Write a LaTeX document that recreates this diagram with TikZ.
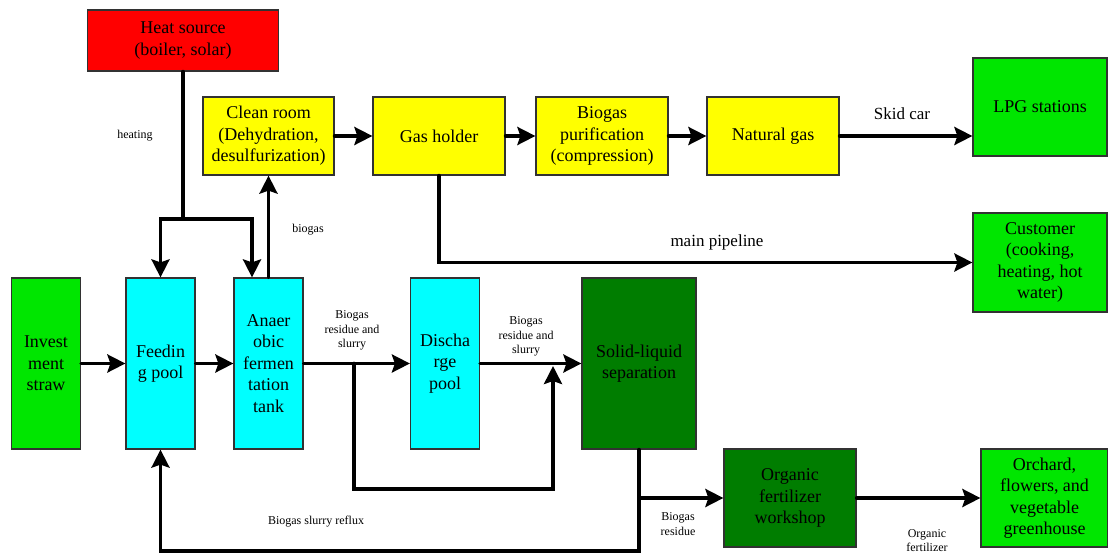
\documentclass[tikz,border=0pt]{standalone}
\usepackage{fontspec}
\setmainfont{Liberation Serif}
\usetikzlibrary{arrows.meta}
\definecolor{heatred}{RGB}{255,0,0}
\definecolor{gasyellow}{RGB}{255,255,0}
\definecolor{poolcyan}{RGB}{0,255,255}
\definecolor{lightgreen}{RGB}{0,230,0}
\definecolor{darkgreen}{RGB}{0,125,0}
\definecolor{edgegray}{RGB}{50,50,50}
\tikzset{
  box/.style={draw=edgegray, line width=1.2pt, rectangle, align=center, inner sep=0pt,
    font=\fontsize{18}{21.5}\selectfont},
  flow/.style={line width=3.6pt, line cap=round, line join=miter,
    -{Stealth[length=18pt,width=18pt,inset=3pt]}},
  pipe/.style={line width=3.6pt, line cap=round},
  small/.style={font=\fontsize{12}{14.5}\selectfont, align=center, inner sep=0pt},
  mid/.style={font=\fontsize{17}{20}\selectfont, inner sep=0pt},
}
\begin{document}
\begin{tikzpicture}[x=1pt,y=-1pt]
\useasboundingbox (0,0) rectangle (1108,554);

% process boxes
\node[box, fill=heatred, minimum width=191pt, minimum height=61pt] (heat) at (183,40.5) {Heat source\\(boiler, solar)};
\node[box, fill=gasyellow, minimum width=131pt, minimum height=78pt] (clean) at (268.5,136) {Clean room\\(Dehydration,\\desulfurization)};
\node[box, fill=gasyellow, minimum width=132pt, minimum height=78pt] (gas) at (439,136) {Gas holder};
\node[box, fill=gasyellow, minimum width=132pt, minimum height=78pt] (puri) at (602,136) {Biogas\\purification\\(compression)};
\node[box, fill=gasyellow, minimum width=132pt, minimum height=78pt] (natgas) at (773,136) {Natural gas};
\node[box, fill=lightgreen, minimum width=134pt, minimum height=98pt] (lpg) at (1040,107) {LPG stations};
\node[box, fill=lightgreen, minimum width=134pt, minimum height=99pt] (cust) at (1040,262.5) {Customer\\(cooking,\\heating, hot\\water)};
\node[box, fill=lightgreen, minimum width=69pt, minimum height=171pt] (invest) at (46,363.5) {Invest\\ment\\straw};
\node[box, fill=poolcyan, minimum width=69pt, minimum height=171pt] (feed) at (160.5,363.5) {Feedin\\g pool};
\node[box, fill=poolcyan, minimum width=69pt, minimum height=171pt] (anaer) at (268.5,363.5) {Anaer\\obic\\fermen\\tation\\tank};
\node[box, fill=poolcyan, minimum width=69pt, minimum height=171pt] (disch) at (445,363.5) {Discha\\rge\\pool};
\node[box, fill=darkgreen, minimum width=114pt, minimum height=171pt] (solid) at (639,363.5) {Solid-liquid\\separation};
\node[box, fill=darkgreen, minimum width=132pt, minimum height=98pt] (organic) at (790,498) {Organic\\fertilizer\\workshop};
\node[box, fill=lightgreen, minimum width=127pt, minimum height=98pt] (orchard) at (1044.5,498) {Orchard,\\flowers, and\\vegetable\\greenhouse};

% junction points
\coordinate (hj) at (183,219);
\coordinate (anaerIn) at ([xshift=-16.5pt]anaer.north);
\coordinate (byA) at (354,363.5);
\coordinate (byLow) at (354,489);
\coordinate (byB) at (553,366);
\coordinate (sj) at (639,498);
\coordinate (ret) at (639,551);

% heating
\draw[pipe] (heat.south) -- (hj);
\draw[flow] (hj) -| (feed.north);
\draw[flow] (hj) -| (anaerIn);

% gas line
\draw[flow] (anaer.north) -- (clean.south);
\draw[flow] (clean.east) -- (gas.west);
\draw[flow] (gas.east) -- (puri.west);
\draw[flow] (puri.east) -- (natgas.west);
\draw[flow] (natgas.east) -- (natgas.east -| lpg.west);
\draw[flow] (gas.south) |- (cust.west);

% material line
\draw[flow] (invest.east) -- (feed.west);
\draw[flow] (feed.east) -- (anaer.west);
\draw[flow] (anaer.east) -- (disch.west);
\draw[flow] (disch.east) -- (solid.west);
\draw[flow] (byA) -- (byLow) -| (byB);
\draw[flow] (solid.south) -- (ret) -| (feed.south);
\draw[flow] (sj) -- (organic.west);
\draw[flow] (organic.east) -- (orchard.west);

% labels
\node[small] (lheat) at (135,136) {heating};
\node[small] (lbio) at (308,230) {biogas};
\node[mid] (lskid) at (902,114) {Skid car};
\node[mid] (lmain) at (717,242) {main pipeline};
\node[small] (lres1) at (352,330.5) {Biogas\\residue and\\slurry};
\node[small] (lres2) at (526,336.5) {Biogas\\residue and\\slurry};
\node[small] (lres3) at (678,524) {Biogas\\residue};
\node[small] (lrefl) at (316,522) {Biogas slurry reflux};
\node[small] (lfert) at (927,540.5) {Organic\\fertilizer};
\end{tikzpicture}
\end{document}
